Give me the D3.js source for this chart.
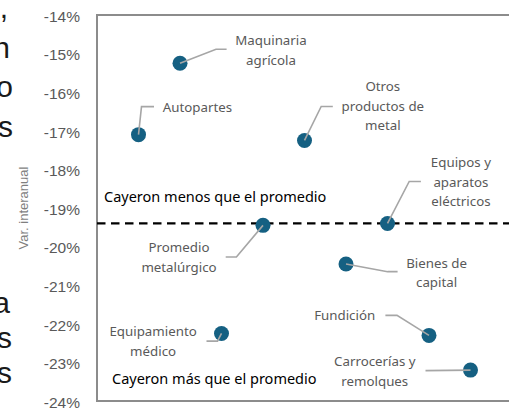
<!DOCTYPE html>
<html lang="es">
<head>
<meta charset="UTF-8">
<title>Var. interanual por rama metalúrgica</title>
<script src="https://d3js.org/d3.v7.min.js"></script>
<style>
    body, html {
        margin: 0;
        padding: 0;
        background: #ffffff;
        overflow: hidden;
    }
    #chart svg {
        display: block;
    }
</style>
</head>
<body>
<div id="chart"></div>
<script>
// data
const sectors = ["Autopartes", "Maquinaria agrícola", "Equipamiento médico", "Promedio metalúrgico",
    "Otros productos de metal", "Bienes de capital", "Equipos y aparatos eléctricos", "Fundición",
    "Carrocerías y remolques"];
const order = [1, 2, 3, 4, 5, 6, 7, 8, 9];
const values = [-17.1, -15.25, -22.25, -19.45, -17.25, -20.45, -19.4, -22.3, -23.2];
const average = -19.4;
const yTicks = [-14, -15, -16, -17, -18, -19, -20, -21, -22, -23, -24];
const notes = ["Cayeron menos que el promedio", "Cayeron más que el promedio"];
// tail of the text column that sits left of the chart
const cutLetters = [",", "n", "o", "s", "a", "s", "s"];

// label placement, relative to each point (px)
const labelLines = [["Autopartes"], ["Maquinaria", "agrícola"], ["Equipamiento", "médico"],
    ["Promedio", "metalúrgico"], ["Otros", "productos de", "metal"], ["Bienes de", "capital"],
    ["Equipos y", "aparatos", "eléctricos"], ["Fundición"], ["Carrocerías y", "remolques"]];
const labelPos = [
    {dx: 59, dy: -27, elbow: [3, -28], end: [15.5, -28]},
    {dx: 91, dy: -22.6, elbow: [36, -14], end: [46.6, -14]},
    {dx: -68.4, dy: -1.7, elbow: [-4, 7.7], end: [-15, 7.7]},
    {dx: -84, dy: 22.3, elbow: [-26.6, 31.7], end: [-37.3, 31.7]},
    {dx: 78.3, dy: -53.7, elbow: [16.7, -34], end: [28.3, -34]},
    {dx: 90.6, dy: -0.7, elbow: [41.6, 7.7], end: [51.6, 7.7]},
    {dx: 73.4, dy: -60.7, elbow: [21.7, -42], end: [33.4, -42]},
    {dx: -84.3, dy: -19.7, elbow: [-32, -20], end: [-43.6, -20]},
    {dx: -95.7, dy: -8.3, elbow: [-45, 0.5], end: [-45, 0.5]}
];

const width = 509, height = 409;
const margin = {top: 15, right: -3, bottom: 8, left: 97};

const svg = d3.select("#chart").append("svg")
    .attr("width", width)
    .attr("height", height);

const x = d3.scaleLinear().domain([0, 10]).range([margin.left, width - margin.right]);
const y = d3.scaleLinear().domain([-24, -14]).range([height - margin.bottom, margin.top]);

// cut-off text on the left
const cutX = [8, 10, 13, 13, 10, 12, 12];
const cutY = [18, 58, 97, 137, 313, 348, 383];
svg.append("g")
    .selectAll("text")
    .data(cutLetters)
    .enter().append("text")
    .attr("x", (d, i) => cutX[i])
    .attr("y", (d, i) => cutY[i])
    .attr("text-anchor", "end")
    .attr("font-family", "Liberation Sans, Arial, sans-serif")
    .attr("font-size", 30)
    .attr("fill", "#1a1a1a")
    .text(d => d);

// frame
svg.append("rect")
    .attr("x", x(0))
    .attr("y", y(-14))
    .attr("width", x(10) - x(0))
    .attr("height", y(-24) - y(-14))
    .attr("fill", "none")
    .attr("stroke", "#8c8c8c")
    .attr("stroke-width", 2);

// y axis
const yAxis = svg.append("g")
    .attr("transform", `translate(${x(0)},0)`)
    .call(d3.axisLeft(y).tickValues(yTicks).tickSize(0).tickPadding(17).tickFormat(d => d + "%"));
yAxis.select(".domain").remove();
yAxis.selectAll("text")
    .attr("font-family", "Liberation Sans, Arial, sans-serif")
    .attr("font-size", 15.5)
    .attr("fill", "#595959")
    .attr("dy", "0.4em");

svg.append("text")
    .attr("transform", `translate(28,${(y(-14) + y(-24)) / 2}) rotate(-90)`)
    .attr("text-anchor", "middle")
    .attr("font-family", "Liberation Sans, Arial, sans-serif")
    .attr("font-size", 13)
    .attr("fill", "#7f7f7f")
    .text("Var. interanual");

// average line
svg.append("line")
    .attr("x1", x(0))
    .attr("x2", x(10))
    .attr("y1", y(average))
    .attr("y2", y(average))
    .attr("stroke", "#000")
    .attr("stroke-width", 2.3)
    .attr("stroke-dasharray", "8.5,5.5");

// notes above / below the average
svg.append("text")
    .attr("x", 104)
    .attr("y", 201.5)
    .attr("font-family", "Noto Sans, sans-serif")
    .attr("font-size", 14.5)
    .attr("fill", "#000")
    .text(notes[0]);
svg.append("text")
    .attr("x", 112)
    .attr("y", 384)
    .attr("font-family", "Noto Sans, sans-serif")
    .attr("font-size", 14.5)
    .attr("fill", "#000")
    .text(notes[1]);

// points
svg.append("g")
    .selectAll("circle")
    .data(values)
    .enter().append("circle")
    .attr("cx", (d, i) => x(order[i]))
    .attr("cy", d => y(d))
    .attr("r", 7.5)
    .attr("fill", "#156082");

// leader lines
svg.append("g")
    .selectAll("polyline")
    .data(values)
    .enter().append("polyline")
    .attr("points", (d, i) => {
        const px = x(order[i]), py = y(d), p = labelPos[i];
        return [[px, py], [px + p.elbow[0], py + p.elbow[1]], [px + p.end[0], py + p.end[1]]]
            .map(q => q.join(",")).join(" ");
    })
    .attr("fill", "none")
    .attr("stroke", "#a6a6a6")
    .attr("stroke-width", 1.6);

// labels
const label = svg.append("g")
    .selectAll("text")
    .data(values)
    .enter().append("text")
    .attr("text-anchor", "middle")
    .attr("font-family", "Noto Sans, sans-serif")
    .attr("font-size", 13.3)
    .attr("fill", "#595959");

label.each(function(d, i) {
    const px = x(order[i]), py = y(d), p = labelPos[i];
    d3.select(this).selectAll("tspan")
        .data(labelLines[i])
        .enter().append("tspan")
        .attr("x", px + p.dx)
        .attr("y", (t, j) => py + p.dy + j * 19.5)
        .attr("dy", "0.35em")
        .text(t => t);
});
</script>
</body>
</html>
